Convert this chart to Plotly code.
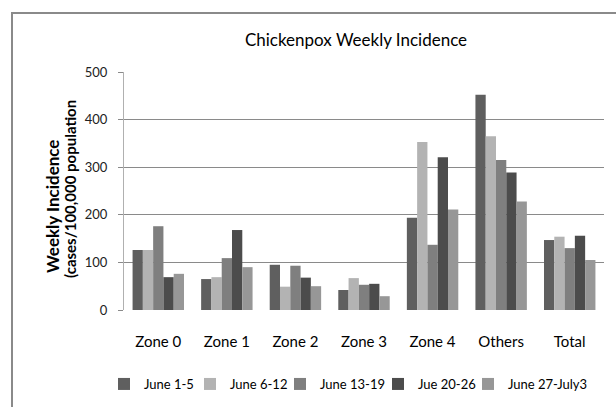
import plotly.graph_objects as go

categories = ["Zone 0", "Zone 1", "Zone 2", "Zone 3", "Zone 4", "Others", "Total"]
series_names = ["June 1-5", "June 6-12", "June 13-19", "Jue 20-26", "June 27-July3"]
june_1_5 = [126, 65, 95, 42, 194, 452, 147]
june_6_12 = [126, 69, 49, 67, 353, 365, 154]
june_13_19 = [176, 109, 93, 53, 137, 315, 130]
jue_20_26 = [69, 168, 68, 55, 321, 289, 156]
june_27_july3 = [76, 90, 50, 29, 211, 228, 105]
y_ticks = [0, 100, 200, 300, 400, 500]

values = [june_1_5, june_6_12, june_13_19, jue_20_26, june_27_july3]
colors = ["#5f5f5f", "#b3b3b3", "#7f7f7f", "#4c4c4c", "#979797"]
legend_ids = ["legend", "legend2", "legend3", "legend4", "legend5"]
legend_left_px = [104, 190, 280, 378, 468]

FONT = "Lato, 'Open Sans', sans-serif"

fig = go.Figure()
for name, vals, col, lg in zip(series_names, values, colors, legend_ids):
    fig.add_trace(go.Bar(x=categories, y=vals, name=name, legend=lg,
                         marker=dict(color=col, line=dict(width=0))))

W, H = 616, 407
L, R, T, B = 124, 12, 72, 97
pw, ph = W - L - R, H - T - B

def px_x(x):
    return (x - L) / pw

def px_y(y):
    return (H - B - y) / ph

legend_common = dict(orientation="h", xref="container", yref="container",
                     xanchor="left", y=1 - 384 / H, yanchor="middle",
                     font=dict(size=13, family=FONT), itemwidth=30,
                     traceorder="normal", tracegroupgap=0,
                     bgcolor="rgba(0,0,0,0)")

legends = {lg: dict(x=lx / W, **legend_common) for lg, lx in zip(legend_ids, legend_left_px)}

fig.update_layout(
    width=W, height=H,
    margin=dict(l=L, r=R, t=T, b=B),
    paper_bgcolor="white", plot_bgcolor="white",
    barmode="group", bargap=0.25, bargroupgap=0.0,
    font=dict(family=FONT, color="#000000"),
    title=dict(text="Chickenpox Weekly Incidence", x=px_x(356), xref="paper",
               xanchor="center", y=1 - 40 / H, yanchor="middle",
               font=dict(size=17, family=FONT, color="#000")),
    showlegend=True,
    **legends,
    xaxis=dict(showline=False, showgrid=False, ticks="outside", ticklen=18,
               tickcolor="rgba(0,0,0,0)", tickfont=dict(size=15, family=FONT, color="#000")),
    yaxis=dict(range=[0, 500], tickvals=y_ticks, showgrid=True, gridcolor="#8a8a8a",
               gridwidth=1, zeroline=False, showline=True, linecolor="#b0b0b0",
               linewidth=1, ticks="outside", ticklen=5, tickcolor="#8a8a8a",
               ticklabelstandoff=8,
               tickfont=dict(size=13, family=FONT, color="#222")),
    shapes=[dict(type="rect", xref="paper", yref="paper",
                 x0=px_x(12), x1=px_x(640), y0=px_y(430), y1=px_y(13),
                 line=dict(color="#8a8a8a", width=2), fillcolor="rgba(0,0,0,0)",
                 layer="below")],
    annotations=[
        dict(text="<b>Weekly Incidence</b>", xref="paper", yref="paper",
             x=px_x(52), y=px_y(207), textangle=-90, showarrow=False,
             xanchor="center", yanchor="middle", font=dict(size=17, family=FONT, color="#000")),
        dict(text="<b>(cases/100,000 population</b>", xref="paper", yref="paper",
             x=px_x(70), y=px_y(189), textangle=-90, showarrow=False,
             xanchor="center", yanchor="middle", font=dict(size=15, family=FONT, color="#000")),
    ],
)

fig.write_html("out.html", config={"displayModeBar": False},
               post_script="document.body.style.margin='0px';document.body.style.overflow='hidden';")
